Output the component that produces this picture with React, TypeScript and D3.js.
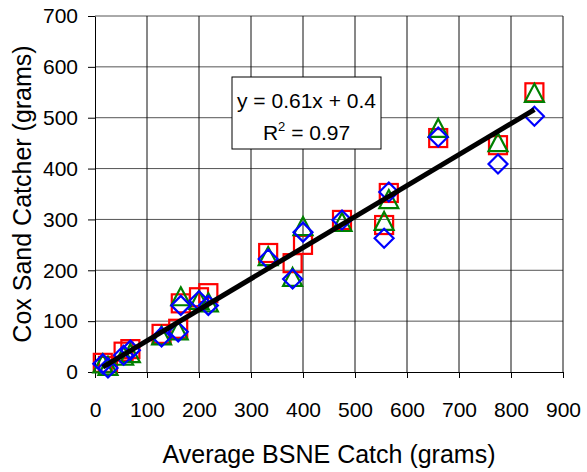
import React, { useRef, useEffect } from "react";
import * as d3 from "d3";

// average BSNE catch for each run (grams)
const bsneCatch = [15, 25, 55, 68, 128, 160, 165, 200, 218, 333, 380, 400, 475, 556, 565, 660, 775, 845];
// Cox sand catcher readings, one series per catcher
const coxRed = [18, 12, 40, 45, 75, 85, 135, 147, 155, 234, 214, 250, 299, 289, 352, 460, 446, 550];
const coxGreen = [15, 10, 30, 35, 70, 80, 147, 140, 135, 226, 185, 285, 293, 295, 338, 478, 450, 547];
const coxBlue = [16, 8, 33, 43, 69, 79, 131, 140, 131, 222, 183, 275, 299, 263, 354, 462, 409, 503];

const xTicks = [0, 100, 200, 300, 400, 500, 600, 700, 800, 900];
const yTicks = [0, 100, 200, 300, 400, 500, 600, 700];

const fitSlope = 0.61;
const fitIntercept = 0.4;
const fitRange = [15, 845];

const W = 587;
const H = 472;

const App = () => {
    const svgRef = useRef<SVGSVGElement>(null);

    useEffect(() => {
        const svg = d3.select(svgRef.current);
        svg.selectAll("*").remove();

        const margin = { top: 16, right: 24, bottom: 100, left: 95 };
        const font = "Liberation Sans, Arial, sans-serif";

        const x = d3.scaleLinear().domain([0, 900]).range([margin.left, W - margin.right]);
        const y = d3.scaleLinear().domain([0, 700]).range([H - margin.bottom, margin.top]);

        // white background
        svg.append("rect").attr("width", W).attr("height", H).attr("fill", "#fff");

        // grid
        svg.append("g")
            .selectAll("line")
            .data(yTicks.slice(1))
            .enter()
            .append("line")
            .attr("x1", x(0)).attr("x2", x(900))
            .attr("y1", d => y(d)).attr("y2", d => y(d))
            .attr("stroke", "#555")
            .attr("stroke-width", 1);

        svg.append("g")
            .selectAll("line")
            .data(xTicks.slice(1))
            .enter()
            .append("line")
            .attr("x1", d => x(d)).attr("x2", d => x(d))
            .attr("y1", y(0)).attr("y2", y(700))
            .attr("stroke", "#111")
            .attr("stroke-width", 1);

        // axes
        const xAxis = svg.append("g")
            .attr("transform", `translate(0,${y(0)})`)
            .call(d3.axisBottom(x).tickValues(xTicks).tickSize(6).tickPadding(24).tickSizeOuter(0));
        const yAxis = svg.append("g")
            .attr("transform", `translate(${x(0)},0)`)
            .call(d3.axisLeft(y).tickValues(yTicks).tickSize(7).tickPadding(10).tickSizeOuter(0));

        [xAxis, yAxis].forEach(a => {
            a.selectAll(".domain").attr("stroke", "#000");
            a.selectAll(".tick line").attr("stroke", "#000");
            a.selectAll("text")
                .attr("fill", "#000")
                .style("font-family", font)
                .style("font-size", "21px");
        });

        // markers
        const size = 18;
        const half = size / 2;

        svg.append("g")
            .selectAll("rect")
            .data(coxRed)
            .enter()
            .append("rect")
            .attr("x", (d, i) => x(bsneCatch[i]) - half)
            .attr("y", d => y(d) - half)
            .attr("width", size)
            .attr("height", size)
            .attr("fill", "none")
            .attr("stroke", "#ff0000")
            .attr("stroke-width", 2.2);

        const tri = (cx: number, cy: number) =>
            `M${cx},${cy - 10}L${cx + 9.5},${cy + 8}L${cx - 9.5},${cy + 8}Z`;
        svg.append("g")
            .selectAll("path")
            .data(coxGreen)
            .enter()
            .append("path")
            .attr("d", (d, i) => tri(x(bsneCatch[i]), y(d)))
            .attr("fill", "none")
            .attr("stroke", "#008000")
            .attr("stroke-width", 2.2);

        const dia = (cx: number, cy: number) =>
            `M${cx},${cy - 9.5}L${cx + 9.5},${cy}L${cx},${cy + 9.5}L${cx - 9.5},${cy}Z`;
        svg.append("g")
            .selectAll("path")
            .data(coxBlue)
            .enter()
            .append("path")
            .attr("d", (d, i) => dia(x(bsneCatch[i]), y(d)))
            .attr("fill", "none")
            .attr("stroke", "#0000ff")
            .attr("stroke-width", 2.2);

        // linear fit
        const fitLine = d3.line<number>()
            .x(d => x(d))
            .y(d => y(fitSlope * d + fitIntercept));
        svg.append("path")
            .attr("d", fitLine(fitRange))
            .attr("stroke", "#000")
            .attr("stroke-width", 5)
            .attr("fill", "none");

        // equation box
        const box = { x0: 232, y0: 77, x1: 381, y1: 149 };
        svg.append("rect")
            .attr("x", box.x0)
            .attr("y", box.y0)
            .attr("width", box.x1 - box.x0)
            .attr("height", box.y1 - box.y0)
            .attr("fill", "#fff")
            .attr("stroke", "#000")
            .attr("stroke-width", 1);

        const cx = (box.x0 + box.x1) / 2;
        svg.append("text")
            .attr("x", cx)
            .attr("y", 108)
            .attr("text-anchor", "middle")
            .style("font-family", font)
            .style("font-size", "21px")
            .text(`y = ${fitSlope}x + ${fitIntercept}`);

        const r2 = svg.append("text")
            .attr("x", cx)
            .attr("y", 140)
            .attr("text-anchor", "middle")
            .style("font-family", font)
            .style("font-size", "21px");
        r2.append("tspan").text("R");
        r2.append("tspan").attr("dy", -9).style("font-size", "13px").text("2");
        r2.append("tspan").attr("dy", 9).text(" = 0.97");

        // axis titles
        svg.append("text")
            .attr("x", (x(0) + x(900)) / 2)
            .attr("y", 463)
            .attr("text-anchor", "middle")
            .style("font-family", font)
            .style("font-size", "25px")
            .text("Average BSNE Catch (grams)");

        svg.append("text")
            .attr("transform", `translate(31,${(y(0) + y(700)) / 2}) rotate(-90)`)
            .attr("text-anchor", "middle")
            .style("font-family", font)
            .style("font-size", "25px")
            .text("Cox Sand Catcher (grams)");
    }, []);

    return (
        <svg
            ref={svgRef}
            width={W}
            height={H}
            style={{ position: "absolute", left: 0, top: 0 }}
        ></svg>
    );
};

export default App;
